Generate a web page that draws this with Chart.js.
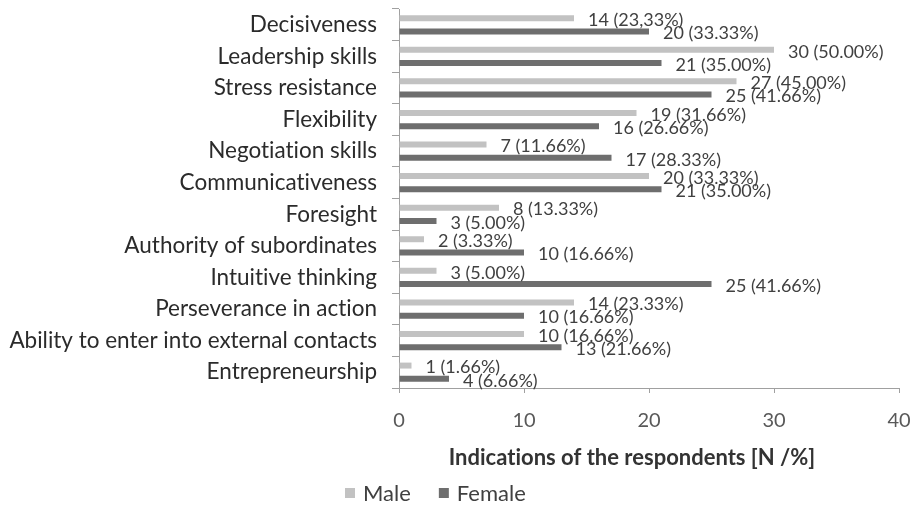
<!DOCTYPE html>
<html>
<head>
<meta charset="utf-8">
<script src="https://cdn.jsdelivr.net/npm/chart.js@4"></script>
<style>
  html, body { margin: 0; padding: 0; background: #ffffff; }
  #wrap { width: 920px; height: 507px; }
</style>
</head>
<body>
<div id="wrap"><canvas id="bars"></canvas></div>
<script>
const categories = ["Decisiveness", "Leadership skills", "Stress resistance", "Flexibility", "Negotiation skills",
  "Communicativeness", "Foresight", "Authority of subordinates", "Intuitive thinking", "Perseverance in action",
  "Ability to enter into external contacts", "Entrepreneurship"];
const maleValues = [14, 30, 27, 19, 7, 20, 8, 2, 3, 14, 10, 1];
const femaleValues = [20, 21, 25, 16, 17, 21, 3, 10, 25, 10, 13, 4];
const maleLabels = ["14 (23,33%)", "30 (50.00%)", "27 (45.00%)", "19 (31.66%)", "7 (11.66%)", "20 (33.33%)",
  "8 (13.33%)", "2 (3.33%)", "3 (5.00%)", "14 (23.33%)", "10 (16.66%)", "1 (1.66%)"];
const femaleLabels = ["20 (33.33%)", "21 (35.00%)", "25 (41.66%)", "16 (26.66%)", "17 (28.33%)", "21 (35.00%)",
  "3 (5.00%)", "10 (16.66%)", "25 (41.66%)", "10 (16.66%)", "13 (21.66%)", "4 (6.66%)"];
const xTicks = [0, 10, 20, 30, 40];
const xTitle = "Indications of the respondents [N /%]";

const FONT = "Lato, 'Open Sans', sans-serif";
const maleColor = "#c2c2c2";
const femaleColor = "#6e6e6e";

// no "ti" ligatures, the original font has none
const plainText = {
  id: "plainText",
  beforeDraw(chart) {
    chart.ctx.textRendering = "optimizeSpeed";
  }
};

// value labels to the right of each bar
const barLabels = {
  id: "barLabels",
  afterDatasetsDraw(chart) {
    const ctx = chart.ctx;
    const texts = [maleLabels, femaleLabels];
    ctx.save();
    ctx.font = "18px " + FONT;
    ctx.fillStyle = "#404040";
    ctx.textAlign = "left";
    ctx.textBaseline = "middle";
    chart.data.datasets.forEach((ds, i) => {
      chart.getDatasetMeta(i).data.forEach((bar, j) => {
        ctx.fillText(texts[i][j], bar.x + 14, bar.y + 2);
      });
    });
    ctx.restore();
  }
};

// axis title and legend under the plot, placed like the original
const footer = {
  id: "footer",
  afterDraw(chart) {
    const ctx = chart.ctx;
    ctx.save();
    ctx.fillStyle = "#333333";
    ctx.textBaseline = "middle";
    ctx.textAlign = "center";
    ctx.font = "bold 22px " + FONT;
    ctx.fillText(xTitle, 632, 458);

    ctx.font = "22px " + FONT;
    ctx.textAlign = "left";
    let x = 345;
    chart.data.datasets.forEach((ds) => {
      ctx.fillStyle = ds.backgroundColor;
      ctx.fillRect(x, 488, 10, 10);
      ctx.fillStyle = "#404040";
      ctx.fillText(ds.label, x + 18, 494);
      x += 18 + ctx.measureText(ds.label).width + 28;
    });
    ctx.restore();
  }
};

new Chart(document.getElementById("bars"), {
  type: "bar",
  data: {
    labels: categories,
    datasets: [
      { label: "Male", data: maleValues, backgroundColor: maleColor },
      { label: "Female", data: femaleValues, backgroundColor: femaleColor },
    ],
  },
  options: {
    indexAxis: "y",
    responsive: true,
    maintainAspectRatio: false,
    animation: false,
    layout: { padding: { top: 9, right: 21, bottom: 72, left: 0 } },
    categoryPercentage: 0.84,
    barPercentage: 0.45,
    plugins: {
      legend: { display: false },
      tooltip: { enabled: false },
    },
    scales: {
      x: {
        min: 0,
        max: 40,
        afterBuildTicks: (scale) => { scale.ticks = xTicks.map(v => ({ value: v })); },
        border: { color: "#a0a0a0" },
        grid: { drawOnChartArea: false, tickLength: 5, color: "#a0a0a0" },
        ticks: { color: "#595959", font: { family: FONT, size: 20 }, padding: 16 },
        afterFit: (scale) => { scale.height = 47; scale.paddingLeft = 0; scale.paddingRight = 0; },
      },
      y: {
        border: { color: "#a0a0a0" },
        grid: { drawOnChartArea: false, tickLength: 7, color: "#a0a0a0", offset: true },
        ticks: { color: "#2b2b2b", font: { family: FONT, size: 22.5 }, padding: 15, autoSkip: false },
        afterFit: (scale) => { scale.width = 399; scale.paddingTop = 0; scale.paddingBottom = 0; },
      },
    },
  },
  plugins: [plainText, barLabels, footer],
});
</script>
</body>
</html>
